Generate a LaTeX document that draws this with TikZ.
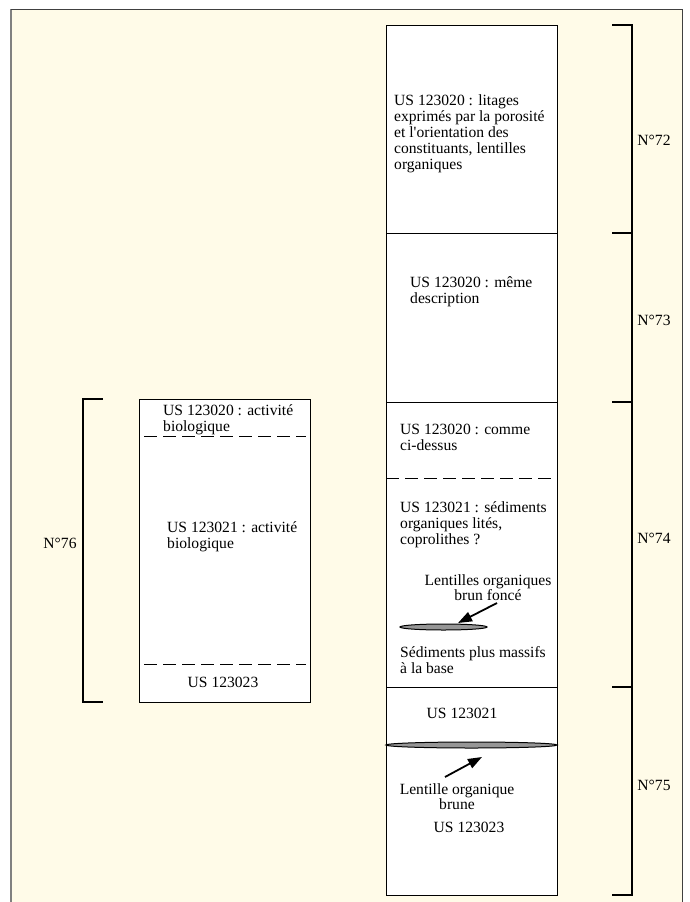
\documentclass[tikz,border=0pt]{standalone}
\usepackage{fontspec}
\setmainfont{Liberation Serif}
\usetikzlibrary{arrows.meta,shapes.geometric}
\definecolor{cream}{RGB}{255,251,232}
\definecolor{lensgray}{RGB}{150,150,150}
\begin{document}
\begin{tikzpicture}[x=1pt,y=-1pt,
  txt/.style={inner sep=0pt, font=\fontsize{15.6}{16}\selectfont, align=left, anchor=north west},
  ctxt/.style={inner sep=0pt, font=\fontsize{15.6}{16}\selectfont, align=center, anchor=center},
  col/.style={draw=black, line width=0.9pt, fill=white},
  sepline/.style={line width=0.9pt, dash pattern=on 13pt off 6pt},
  brk/.style={line width=1.2pt},
  tickline/.style={line width=2pt},
  lens/.style={ellipse, draw=black, fill=lensgray, line width=1pt, inner sep=0pt},
  arr/.style={line width=1.8pt, -{Triangle[length=14pt,width=10pt]}},
]
\useasboundingbox (0,0) rectangle (690,902);
\fill[cream] (11,9) rectangle (682,902);
\draw[gray, line width=2pt] (11,9) -- (11,902);
\draw[black!75, line width=1pt] (11,9) -- (682,9) -- (682,902);

% right column
\draw[col] (386,25) rectangle (557,895);
\draw[line width=0.9pt] (386,233) -- (557,233);
\draw[line width=0.9pt] (386,402) -- (557,402);
\draw[line width=0.9pt] (386,687) -- (557,687);
\draw[sepline] (386,478) -- (557,478);

% right brackets
\draw[brk] (632,25) -- (632,895);
\foreach \yy in {25,233,402,687,895} \draw[tickline] (612,\yy) -- (632.6,\yy);
\node[ctxt] (n72) at (654,140) {N°72};
\node[ctxt] (n73) at (654,320) {N°73};
\node[ctxt] (n74) at (654,538) {N°74};
\node[ctxt] (n75) at (654,785) {N°75};

% left column
\draw[col] (139,399) rectangle (310,702);
\draw[sepline] (144,436) -- (306,436);
\draw[sepline] (144,664) -- (306,664);
\draw[brk] (83,399) -- (83,702);
\foreach \yy in {399,702} \draw[tickline] (82.4,\yy) -- (103,\yy);
\node[ctxt] (n76) at (60,543) {N°76};

% texts right column
\node[txt] (t72) at (394,94) {US 123020 : litages\\exprimés par la porosité\\et l\textquotesingle orientation des\\constituants, lentilles\\organiques};
\node[txt] (t73) at (410,276) {US 123020 : même\\description};
\node[txt] (t74a) at (400,424) {US 123020 : comme\\ci-dessus};
\node[txt] (t74b) at (400,501) {US 123021 : sédiments\\organiques lités,\\coprolithes ?};
\node[txt, font=\fontsize{15.6}{12}\selectfont, align=center, anchor=north] (t74c) at (488,574) {Lentilles organiques\\brun foncé};
\node[txt] (t74d) at (400,646) {Sédiments plus massifs\\à la base};
\node[ctxt] (t75a) at (462,713) {US 123021};
\node[txt, font=\fontsize{15.6}{13}\selectfont, align=center, anchor=north] (t75b) at (457,783) {Lentille organique\\brune};
\node[ctxt] (t75c) at (469,827) {US 123023};

% lenses and arrows
\node[lens, minimum width=87pt, minimum height=6pt] (lens1) at (443.5,627) {};
\node[lens, minimum width=171pt, minimum height=6pt] (lens2) at (471.5,745) {};
\coordinate (a1s) at (497,603);
\coordinate (a1e) at (458,623);
\draw[arr] (a1s) -- (a1e);
\coordinate (a2s) at (445,777);
\coordinate (a2e) at (482,757);
\draw[arr] (a2s) -- (a2e);

% texts left column
\node[txt] (t76a) at (163,404.5) {US 123020 : activité\\biologique};
\node[txt] (t76b) at (167,521) {US 123021 : activité\\biologique};
\node[ctxt] (t76c) at (223,682) {US 123023};
\end{tikzpicture}
\end{document}
